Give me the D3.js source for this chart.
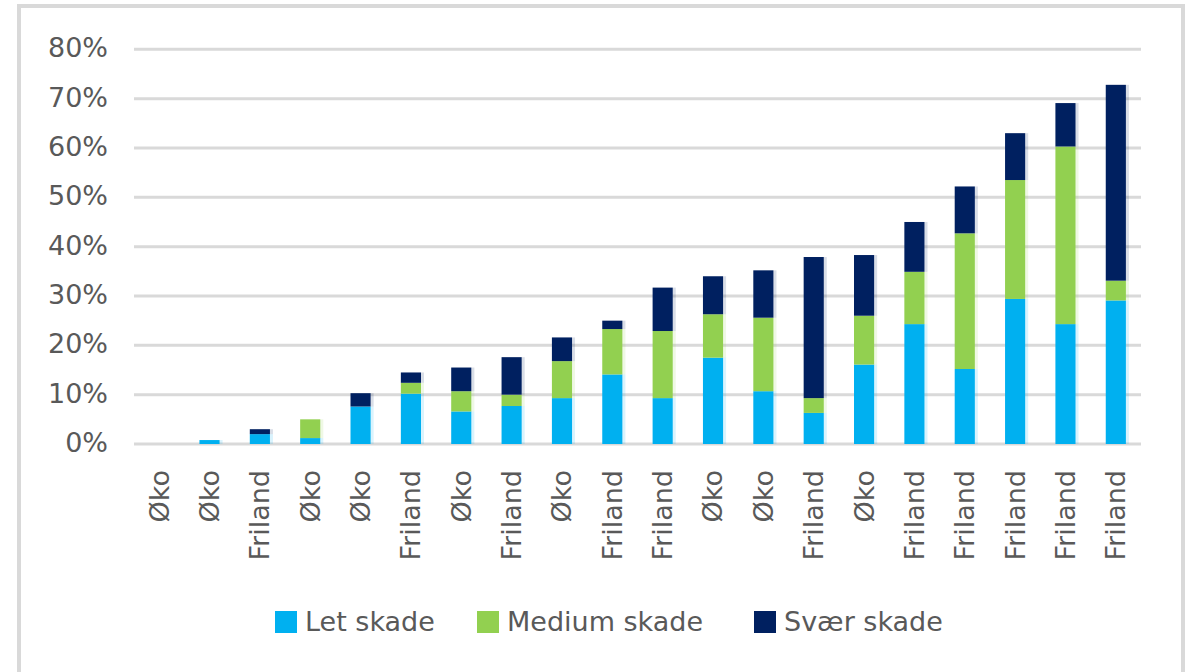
<!DOCTYPE html>
<html>
<head>
<meta charset="utf-8">
<script src="https://cdn.jsdelivr.net/npm/d3@7"></script>
<style>
  html, body { margin: 0; padding: 0; background: #ffffff; }
  svg { display: block; }
  text { font-family: "DejaVu Sans", sans-serif; }
</style>
</head>
<body>
<svg id="chart" width="1191" height="672"></svg>
<script>
const categories = ["Øko","Øko","Friland","Øko","Øko","Friland","Øko","Friland","Øko","Friland",
                    "Friland","Øko","Øko","Friland","Øko","Friland","Friland","Friland","Friland","Friland"];
const letSkade    = [0, 0.8, 2.0, 1.2, 7.6, 10.2, 6.6, 7.7, 9.3, 14.1, 9.3, 17.5, 10.7, 6.3, 16.1, 24.3, 15.2, 29.4, 24.3, 29.1];
const mediumSkade = [0, 0, 0, 3.8, 0, 2.2, 4.1, 2.3, 7.5, 9.2, 13.6, 8.8, 14.9, 3.0, 9.9, 10.6, 27.5, 24.1, 36.0, 4.0];
const svaerSkade  = [0, 0, 1.0, 0, 2.7, 2.1, 4.8, 7.6, 4.8, 1.7, 8.8, 7.7, 9.6, 28.6, 12.3, 10.1, 9.5, 9.5, 8.8, 39.7];
const seriesNames = ["Let skade", "Medium skade", "Svær skade"];
const seriesColors = ["#00b0f0", "#92d050", "#002060"];
const yTicks = [0, 10, 20, 30, 40, 50, 60, 70, 80];

const svg = d3.select("#chart");

// outer border
svg.append("rect")
  .attr("x", 19).attr("y", 6)
  .attr("width", 1164).attr("height", 700)
  .attr("fill", "none").attr("stroke", "#d9d9d9").attr("stroke-width", 4);

const x = d3.scaleBand().domain(d3.range(categories.length))
  .range([134, 1141]).paddingInner(0.6).paddingOuter(0.3);
const y = d3.scaleLinear().domain([0, 80]).range([444, 49.3]);

// gridlines
svg.append("g").selectAll("line").data(yTicks).join("line")
  .attr("x1", 134).attr("x2", 1141)
  .attr("y1", d => y(d)).attr("y2", d => y(d))
  .attr("stroke", "#d9d9d9").attr("stroke-width", 3);

// y labels
svg.append("g").selectAll("text").data(yTicks).join("text")
  .attr("x", 108).attr("y", d => y(d) + 8)
  .attr("text-anchor", "end")
  .attr("font-size", 27).attr("fill", "#595959")
  .text(d => d + "%");

// stacked data
const rows = categories.map((c, i) => ({ i, a: letSkade[i], b: mediumSkade[i], c: svaerSkade[i] }));
const stack = d3.stack().keys(["a", "b", "c"])(rows);

const gBars = svg.append("g");
stack.forEach((layer, k) => {
  const g = gBars.append("g");
  // soft shadow strip on the right
  g.selectAll("rect.sh").data(layer.filter(d => d[1] > d[0])).join("rect")
    .attr("class", "sh")
    .attr("x", d => x(d.data.i) + x.bandwidth())
    .attr("width", 3)
    .attr("y", d => y(d[1]))
    .attr("height", d => y(d[0]) - y(d[1]))
    .attr("fill", seriesColors[k]).attr("opacity", 0.15);
  g.selectAll("rect.bar").data(layer.filter(d => d[1] > d[0])).join("rect")
    .attr("class", "bar")
    .attr("x", d => x(d.data.i))
    .attr("width", x.bandwidth())
    .attr("y", d => y(d[1]))
    .attr("height", d => y(d[0]) - y(d[1]))
    .attr("fill", seriesColors[k]);
});

// x labels (rotated)
svg.append("g").selectAll("text").data(categories).join("text")
  .attr("transform", (d, i) => `translate(${x(i) + x.bandwidth() / 2},470) rotate(-90)`)
  .attr("text-anchor", "end")
  .attr("dy", "0.35em")
  .attr("font-size", 27).attr("fill", "#595959")
  .text(d => d);

// legend
const legendX = [275, 477, 754];
const lg = svg.append("g");
seriesNames.forEach((name, k) => {
  lg.append("rect").attr("x", legendX[k]).attr("y", 611)
    .attr("width", 22).attr("height", 22).attr("fill", seriesColors[k]);
  lg.append("text").attr("x", legendX[k] + 30).attr("y", 631)
    .attr("font-size", 27).attr("fill", "#595959").text(name);
});
</script>
</body>
</html>
